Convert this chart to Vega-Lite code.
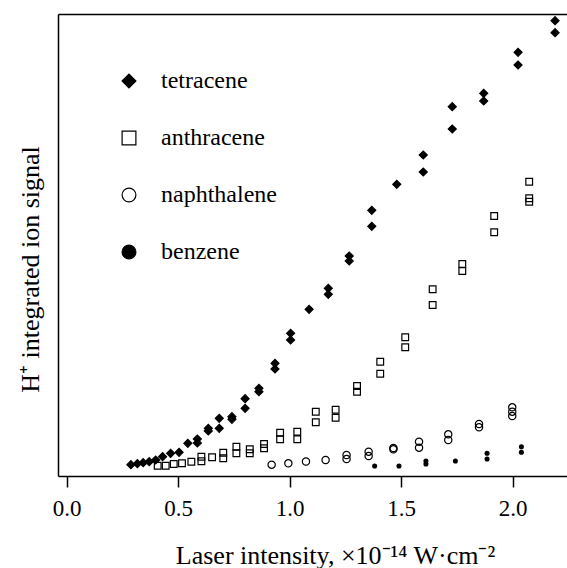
{
  "$schema": "https://vega.github.io/schema/vega-lite/v6.json",
  "width": 509,
  "height": 462,
  "autosize": "none",
  "padding": {"left": 58, "top": 14, "right": 0, "bottom": 92},
  "background": "white",
  "config": {
    "view": {"stroke": null},
    "font": "Liberation Serif",
    "axis": {"grid": false, "domainColor": "black", "domainWidth": 1.5, "tickColor": "black", "labelColor": "black", "titleColor": "black", "titleFontWeight": "normal", "labelFont": "Liberation Serif", "titleFont": "Liberation Serif"}
  },
  "data": {"values": [
    {"compound": "tetracene", "intensity": 0.288, "signal": 11.3},
    {"compound": "tetracene", "intensity": 0.317, "signal": 12.3},
    {"compound": "tetracene", "intensity": 0.343, "signal": 13.3},
    {"compound": "tetracene", "intensity": 0.370, "signal": 14.3},
    {"compound": "tetracene", "intensity": 0.399, "signal": 16},
    {"compound": "tetracene", "intensity": 0.430, "signal": 19.3},
    {"compound": "tetracene", "intensity": 0.466, "signal": 22.7},
    {"compound": "tetracene", "intensity": 0.504, "signal": 23.7},
    {"compound": "tetracene", "intensity": 0.543, "signal": 32.7},
    {"compound": "tetracene", "intensity": 0.586, "signal": 37},
    {"compound": "tetracene", "intensity": 0.586, "signal": 33},
    {"compound": "tetracene", "intensity": 0.635, "signal": 47.7},
    {"compound": "tetracene", "intensity": 0.635, "signal": 45},
    {"compound": "tetracene", "intensity": 0.684, "signal": 57.7},
    {"compound": "tetracene", "intensity": 0.684, "signal": 47.7},
    {"compound": "tetracene", "intensity": 0.741, "signal": 59.3},
    {"compound": "tetracene", "intensity": 0.741, "signal": 56.7},
    {"compound": "tetracene", "intensity": 0.800, "signal": 77.3},
    {"compound": "tetracene", "intensity": 0.800, "signal": 67.7},
    {"compound": "tetracene", "intensity": 0.862, "signal": 87.7},
    {"compound": "tetracene", "intensity": 0.862, "signal": 84.3},
    {"compound": "tetracene", "intensity": 0.934, "signal": 112.7},
    {"compound": "tetracene", "intensity": 0.934, "signal": 107},
    {"compound": "tetracene", "intensity": 1.004, "signal": 142.7},
    {"compound": "tetracene", "intensity": 1.004, "signal": 136},
    {"compound": "tetracene", "intensity": 1.087, "signal": 166.7},
    {"compound": "tetracene", "intensity": 1.173, "signal": 187.7},
    {"compound": "tetracene", "intensity": 1.173, "signal": 181.7},
    {"compound": "tetracene", "intensity": 1.267, "signal": 220},
    {"compound": "tetracene", "intensity": 1.267, "signal": 215},
    {"compound": "tetracene", "intensity": 1.368, "signal": 265.7},
    {"compound": "tetracene", "intensity": 1.368, "signal": 249.7},
    {"compound": "tetracene", "intensity": 1.480, "signal": 291.7},
    {"compound": "tetracene", "intensity": 1.599, "signal": 321},
    {"compound": "tetracene", "intensity": 1.599, "signal": 304},
    {"compound": "tetracene", "intensity": 1.729, "signal": 369.3},
    {"compound": "tetracene", "intensity": 1.729, "signal": 347},
    {"compound": "tetracene", "intensity": 1.870, "signal": 382.7},
    {"compound": "tetracene", "intensity": 1.870, "signal": 375},
    {"compound": "tetracene", "intensity": 2.024, "signal": 423.7},
    {"compound": "tetracene", "intensity": 2.024, "signal": 411},
    {"compound": "tetracene", "intensity": 2.190, "signal": 455.3},
    {"compound": "tetracene", "intensity": 2.190, "signal": 443.3},
    {"compound": "anthracene", "intensity": 0.408, "signal": 10.3},
    {"compound": "anthracene", "intensity": 0.444, "signal": 10.3},
    {"compound": "anthracene", "intensity": 0.480, "signal": 12},
    {"compound": "anthracene", "intensity": 0.517, "signal": 12.7},
    {"compound": "anthracene", "intensity": 0.559, "signal": 14.3},
    {"compound": "anthracene", "intensity": 0.604, "signal": 19.3},
    {"compound": "anthracene", "intensity": 0.604, "signal": 14.7},
    {"compound": "anthracene", "intensity": 0.652, "signal": 18.7},
    {"compound": "anthracene", "intensity": 0.702, "signal": 23.3},
    {"compound": "anthracene", "intensity": 0.702, "signal": 17.7},
    {"compound": "anthracene", "intensity": 0.761, "signal": 29.3},
    {"compound": "anthracene", "intensity": 0.761, "signal": 22.7},
    {"compound": "anthracene", "intensity": 0.821, "signal": 26.7},
    {"compound": "anthracene", "intensity": 0.821, "signal": 22.7},
    {"compound": "anthracene", "intensity": 0.885, "signal": 32},
    {"compound": "anthracene", "intensity": 0.885, "signal": 27.7},
    {"compound": "anthracene", "intensity": 0.957, "signal": 43.3},
    {"compound": "anthracene", "intensity": 0.957, "signal": 36.7},
    {"compound": "anthracene", "intensity": 1.034, "signal": 44.3},
    {"compound": "anthracene", "intensity": 1.034, "signal": 36.7},
    {"compound": "anthracene", "intensity": 1.117, "signal": 64.3},
    {"compound": "anthracene", "intensity": 1.117, "signal": 53.7},
    {"compound": "anthracene", "intensity": 1.206, "signal": 66.3},
    {"compound": "anthracene", "intensity": 1.206, "signal": 58.3},
    {"compound": "anthracene", "intensity": 1.302, "signal": 90},
    {"compound": "anthracene", "intensity": 1.302, "signal": 84.3},
    {"compound": "anthracene", "intensity": 1.406, "signal": 114.3},
    {"compound": "anthracene", "intensity": 1.406, "signal": 102.3},
    {"compound": "anthracene", "intensity": 1.518, "signal": 138.7},
    {"compound": "anthracene", "intensity": 1.518, "signal": 128.7},
    {"compound": "anthracene", "intensity": 1.641, "signal": 186.7},
    {"compound": "anthracene", "intensity": 1.641, "signal": 171},
    {"compound": "anthracene", "intensity": 1.774, "signal": 212},
    {"compound": "anthracene", "intensity": 1.774, "signal": 205},
    {"compound": "anthracene", "intensity": 1.917, "signal": 260},
    {"compound": "anthracene", "intensity": 1.917, "signal": 243.7},
    {"compound": "anthracene", "intensity": 2.074, "signal": 294.3},
    {"compound": "anthracene", "intensity": 2.074, "signal": 277.7},
    {"compound": "anthracene", "intensity": 2.074, "signal": 274.3},
    {"compound": "naphthalene", "intensity": 0.919, "signal": 11.3},
    {"compound": "naphthalene", "intensity": 0.994, "signal": 12.7},
    {"compound": "naphthalene", "intensity": 1.073, "signal": 14.5},
    {"compound": "naphthalene", "intensity": 1.161, "signal": 16},
    {"compound": "naphthalene", "intensity": 1.255, "signal": 21},
    {"compound": "naphthalene", "intensity": 1.255, "signal": 17},
    {"compound": "naphthalene", "intensity": 1.354, "signal": 24.3},
    {"compound": "naphthalene", "intensity": 1.354, "signal": 20},
    {"compound": "naphthalene", "intensity": 1.465, "signal": 26.7},
    {"compound": "naphthalene", "intensity": 1.465, "signal": 28},
    {"compound": "naphthalene", "intensity": 1.580, "signal": 34.3},
    {"compound": "naphthalene", "intensity": 1.580, "signal": 28.3},
    {"compound": "naphthalene", "intensity": 1.711, "signal": 41.7},
    {"compound": "naphthalene", "intensity": 1.711, "signal": 36},
    {"compound": "naphthalene", "intensity": 1.849, "signal": 52},
    {"compound": "naphthalene", "intensity": 1.849, "signal": 48.7},
    {"compound": "naphthalene", "intensity": 1.998, "signal": 68.7},
    {"compound": "naphthalene", "intensity": 1.998, "signal": 64.3},
    {"compound": "naphthalene", "intensity": 1.998, "signal": 60},
    {"compound": "benzene", "intensity": 1.381, "signal": 10},
    {"compound": "benzene", "intensity": 1.490, "signal": 10},
    {"compound": "benzene", "intensity": 1.611, "signal": 15},
    {"compound": "benzene", "intensity": 1.611, "signal": 12},
    {"compound": "benzene", "intensity": 1.743, "signal": 15},
    {"compound": "benzene", "intensity": 1.885, "signal": 22.7},
    {"compound": "benzene", "intensity": 1.885, "signal": 17},
    {"compound": "benzene", "intensity": 2.039, "signal": 29.3},
    {"compound": "benzene", "intensity": 2.039, "signal": 23.7}
  ]},
  "layer": [
    {
      "mark": {"type": "point", "filled": true, "stroke": "black", "opacity": 1},
      "encoding": {
        "x": {"field": "intensity", "type": "quantitative",
          "scale": {"domain": [-0.039, 2.2435], "nice": false, "zero": false},
          "axis": {"orient": "bottom", "values": [0, 0.5, 1, 1.5, 2], "format": ".1f", "tickSize": 11, "tickWidth": 1.5, "labelPadding": 10, "labelFontSize": 23,
            "title": "Laser intensity, ×10⁻¹⁴ W·cm⁻²", "titleFontSize": 26, "titleX": 277, "titleY": 87, "titleAlign": "center", "titleBaseline": "alphabetic"}},
        "y": {"field": "signal", "type": "quantitative",
          "scale": {"domain": [0, 462], "nice": false, "zero": false},
          "axis": {"orient": "left", "ticks": false, "labels": false, "domain": true,
            "title": "H⁺ integrated ion signal", "titleFontSize": 26, "titleAngle": -90, "titleX": -20, "titleY": 255, "titleAlign": "center", "titleBaseline": "alphabetic"}},
        "strokeWidth": {"condition": {"test": "datum.compound === 'benzene'", "value": 0}, "value": 1.2},
        "shape": {"field": "compound", "type": "nominal",
          "scale": {"domain": ["tetracene", "anthracene", "naphthalene", "benzene"], "range": ["diamond", "square", "circle", "circle"]},
          "legend": {"title": null, "orient": "none", "legendX": 59, "legendY": 55, "padding": 0, "labelFontSize": 24, "labelFont": "Liberation Serif", "labelColor": "black", "rowPadding": 33, "labelOffset": 20, "symbolStrokeWidth": 1.2, "symbolSize": 190,
            "encode": {"symbols": {
              "size": {"value": {"expr": "(datum.value === 'benzene' || datum.label === 'benzene' || datum.index === 3) ? 12 : 190"}},
              "strokeWidth": {"value": {"expr": "(datum.value === 'benzene' || datum.label === 'benzene' || datum.index === 3) ? 0 : 1.2"}}}}}},
        "fill": {"field": "compound", "type": "nominal",
          "scale": {"domain": ["tetracene", "anthracene", "naphthalene", "benzene"], "range": ["black", "transparent", "transparent", "black"]},
          "legend": {"title": null, "orient": "none", "legendX": 59, "legendY": 55, "padding": 0, "labelFontSize": 24, "labelFont": "Liberation Serif", "labelColor": "black", "rowPadding": 33, "labelOffset": 20, "symbolStrokeWidth": 1.2, "symbolSize": 190,
            "encode": {"symbols": {
              "size": {"value": {"expr": "(datum.value === 'benzene' || datum.label === 'benzene' || datum.index === 3) ? 12 : 190"}},
              "strokeWidth": {"value": {"expr": "(datum.value === 'benzene' || datum.label === 'benzene' || datum.index === 3) ? 0 : 1.2"}}}}}},
        "size": {"field": "compound", "type": "nominal",
          "scale": {"type": "ordinal", "range": [45, 26, 53, 64]},
          "legend": null}
      }
    },
    {
      "mark": {"type": "point", "opacity": 0},
      "encoding": {
        "x": {"field": "intensity", "type": "quantitative", "axis": {"orient": "top", "ticks": false, "labels": false, "title": null, "domain": true}}
      }
    }
  ]
}
